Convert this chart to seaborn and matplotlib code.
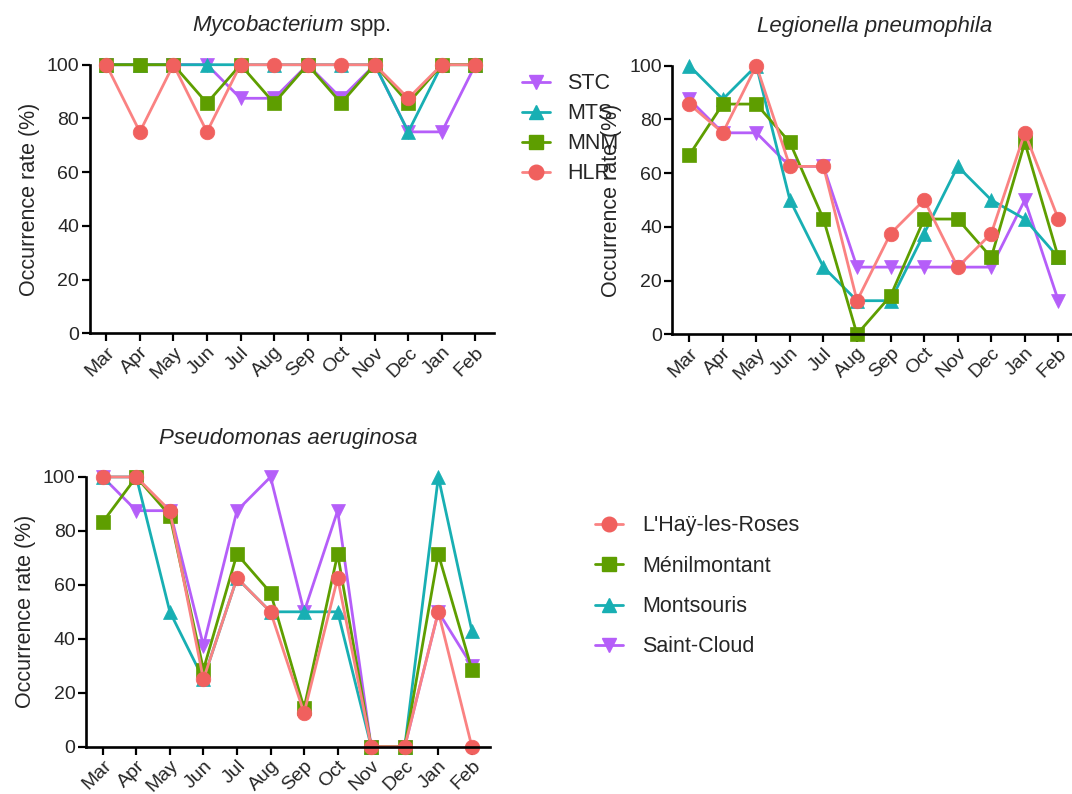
import matplotlib
matplotlib.use("Agg")
import matplotlib.pyplot as plt
from matplotlib.lines import Line2D
import pandas as pd
import seaborn as sns

months = ["Mar", "Apr", "May", "Jun", "Jul", "Aug", "Sep", "Oct", "Nov", "Dec", "Jan", "Feb"]

# drawing order (bottom to top): STC, MTS, MNM, HLR
sites = ["STC", "MTS", "MNM", "HLR"]
site_names = {"HLR": "L'Haÿ-les-Roses", "MNM": "Ménilmontant", "MTS": "Montsouris", "STC": "Saint-Cloud"}

# Mycobacterium spp.
myco_stc = [100, 100, 100, 100, 87.5, 87.5, 100, 87.5, 100, 75, 75, 100]
myco_mts = [100, 100, 100, 100, 100, 100, 100, 100, 100, 75, 100, 100]
myco_mnm = [100, 100, 100, 85.7, 100, 85.7, 100, 85.7, 100, 85.7, 100, 100]
myco_hlr = [100, 75, 100, 75, 100, 100, 100, 100, 100, 87.5, 100, 100]

# Legionella pneumophila
legio_stc = [87.5, 75, 75, 62.5, 62.5, 25, 25, 25, 25, 25, 50, 12.5]
legio_mts = [100, 87.5, 100, 50, 25, 12.5, 12.5, 37.5, 62.5, 50, 42.9, 28.6]
legio_mnm = [66.7, 85.7, 85.7, 71.4, 42.9, 0, 14.3, 42.9, 42.9, 28.6, 71.4, 28.6]
legio_hlr = [85.7, 75, 100, 62.5, 62.5, 12.5, 37.5, 50, 25, 37.5, 75, 42.9]

# Pseudomonas aeruginosa
pseudo_stc = [100, 87.5, 87.5, 37.5, 87.5, 100, 50, 87.5, 0, 0, 50, 30]
pseudo_mts = [100, 100, 50, 25, 62.5, 50, 50, 50, 0, 0, 100, 42.9]
pseudo_mnm = [83.3, 100, 85.7, 28.6, 71.4, 57.1, 14.3, 71.4, 0, 0, 71.4, 28.6]
pseudo_hlr = [100, 100, 87.5, 25, 62.5, 50, 12.5, 62.5, 0, 0, 50, 0]

colors = {"STC": "#B55EF9", "MTS": "#18AFB3", "MNM": "#5E9E00", "HLR": "#F0605E"}
line_colors = {"STC": "#B55EF9", "MTS": "#18AFB3", "MNM": "#5E9E00", "HLR": "#FA8282"}
markers = {"STC": "v", "MTS": "^", "MNM": "s", "HLR": "o"}
msizes = {"STC": 10, "MTS": 10, "MNM": 9.5, "HLR": 10.5}

sns.set_theme(style="ticks")
plt.rcParams["font.family"] = ["Liberation Sans", "DejaVu Sans"]
plt.rcParams["mathtext.fontset"] = "custom"
plt.rcParams["mathtext.it"] = "Liberation Sans:italic"
plt.rcParams["mathtext.rm"] = "Liberation Sans"


def long_frame(stc, mts, mnm, hlr):
    parts = []
    for site, vals in zip(sites, [stc, mts, mnm, hlr]):
        parts.append(pd.DataFrame({"month": months, "rate": vals, "site": site}))
    return pd.concat(parts, ignore_index=True)


def draw_panel(ax, df, title):
    sns.lineplot(
        data=df, x="month", y="rate", hue="site", style="site",
        hue_order=sites, style_order=sites, palette=colors, markers=markers,
        dashes=False, sort=False, legend=False, ax=ax, linewidth=2.0,
    )
    for line, site in zip(ax.lines, sites):
        line.set_color(line_colors[site])
        line.set_markerfacecolor(colors[site])
        line.set_markeredgecolor(colors[site])
        line.set_markeredgewidth(0.5)
        line.set_markersize(msizes[site])
        line.set_clip_on(False)
    ax.set_xlim(-0.5, 11.55)
    ax.set_ylim(0, 100)
    ax.set_yticks([0, 20, 40, 60, 80, 100])
    ax.set_xticks(range(len(months)))
    ax.set_xticklabels(months, rotation=45, ha="right", rotation_mode="anchor")
    ax.set_xlabel("")
    ax.set_ylabel("Occurrence rate (%)", fontsize=15.5, labelpad=5)
    ax.set_title(title, fontsize=16, pad=24)
    for s in ["top", "right"]:
        ax.spines[s].set_visible(False)
    for s in ["left", "bottom"]:
        ax.spines[s].set_linewidth(1.9)
        ax.spines[s].set_color("black")
    ax.tick_params(axis="both", width=1.6, length=6, color="black", labelsize=14, pad=1.5)
    ax.grid(False)


fig = plt.figure(figsize=(10.72, 7.94), dpi=100)
ax1 = fig.add_axes([0.0835, 0.5802, 0.3772, 0.3383])
ax2 = fig.add_axes([0.6273, 0.5790, 0.3772, 0.3383])
ax3 = fig.add_axes([0.0802, 0.0596, 0.3772, 0.3397])

draw_panel(ax1, long_frame(myco_stc, myco_mts, myco_mnm, myco_hlr), r"$\mathit{Mycobacterium}$ spp.")
draw_panel(ax2, long_frame(legio_stc, legio_mts, legio_mnm, legio_hlr), "Legionella pneumophila")
draw_panel(ax3, long_frame(pseudo_stc, pseudo_mts, pseudo_mnm, pseudo_hlr), "Pseudomonas aeruginosa")
ax2.title.set_fontstyle("italic")
ax3.title.set_fontstyle("italic")


def handle(site):
    return Line2D([0], [0], color=line_colors[site], lw=2.0, marker=markers[site],
                  markersize=msizes[site], markerfacecolor=colors[site],
                  markeredgecolor=colors[site])


# the site-code legend sits over the right panel's y label, as in the source figure
fig.legend(handles=[handle(s) for s in sites], labels=sites,
           loc="upper left", bbox_to_anchor=(0.487, 0.908), frameon=False,
           fontsize=15.5, handlelength=1.3, handletextpad=0.8, labelspacing=0.42,
           borderpad=0, borderaxespad=0)

order2 = ["HLR", "MNM", "MTS", "STC"]
fig.legend(handles=[handle(s) for s in order2], labels=[site_names[s] for s in order2],
           loc="upper left", bbox_to_anchor=(0.555, 0.351), frameon=False,
           fontsize=15.5, handlelength=1.3, handletextpad=0.9, labelspacing=0.9,
           borderpad=0, borderaxespad=0)

fig.savefig("out.png", dpi=100)
